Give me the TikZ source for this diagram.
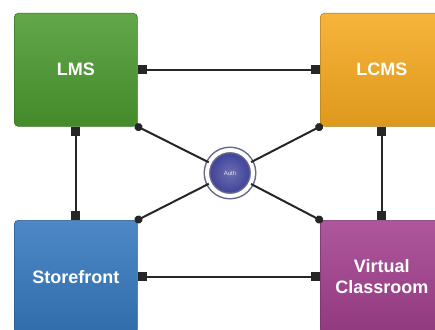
\documentclass[tikz,border=0pt]{standalone}
\usepackage{fontspec}
\setmainfont{Liberation Sans}
\usetikzlibrary{arrows.meta}

\definecolor{lmsgreen}{RGB}{76,154,48}
\definecolor{lcmsorange}{RGB}{246,170,32}
\definecolor{storeblue}{RGB}{54,120,190}
\definecolor{vcpurple}{RGB}{162,64,142}
\definecolor{authblue}{RGB}{58,62,150}

\tikzset{
  sysbox/.style={rounded corners=4pt, minimum width=123pt, minimum height=113pt,
    inner sep=0pt, anchor=north west, draw=#1!75!black, line width=0.6pt,
    top color=#1!88!white, bottom color=#1!90!black, text=white,
    font=\fontsize{18}{21}\selectfont\bfseries, align=center},
  link/.style={line width=2pt, draw=black!85,
    {Square[length=9pt,width=9pt]}-{Square[length=9pt,width=9pt]}},
  spoke/.style={line width=2pt, draw=black!85, -{Circle[length=8pt]}, shorten >=-3pt},
}

\begin{document}
\begin{tikzpicture}[x=1pt,y=-1pt]

	\useasboundingbox (0,0) rectangle (435,329);
	\clip (0,0) rectangle (435,329);
	\fill[white] (0,0) rectangle (435,329);

	% systems
	\node[sysbox=lmsgreen] (lms) at (14,13) {LMS};
	\node[sysbox=lcmsorange] (lcms) at (320,13) {LCMS};
	\node[sysbox=storeblue] (store) at (14,220) {Storefront};
	\node[sysbox=vcpurple] (vc) at (320,220) {Virtual\\Classroom};

	% hub
	\node[circle, minimum size=46pt, inner sep=0pt, inner color=authblue!75!white,
		outer color=authblue, draw=authblue!60!black!70, double=white,
		double distance=4pt, line width=1.5pt, text=white!85!authblue,
		font=\fontsize{6}{7}\selectfont] (auth) at (230,173) {Auth};

	% links between systems
	\draw[link] (lms) -- (lcms);
	\draw[link] (store) -- (vc);
	\draw[link] (lms) -- (store);
	\draw[link] (lcms) -- (vc);

	% links to the hub
	\draw[spoke] (auth) -- (lms.south east);
	\draw[spoke] (auth) -- (lcms.south west);
	\draw[spoke] (auth) -- (store.north east);
	\draw[spoke] (auth) -- (vc.north west);

\end{tikzpicture}
\end{document}
